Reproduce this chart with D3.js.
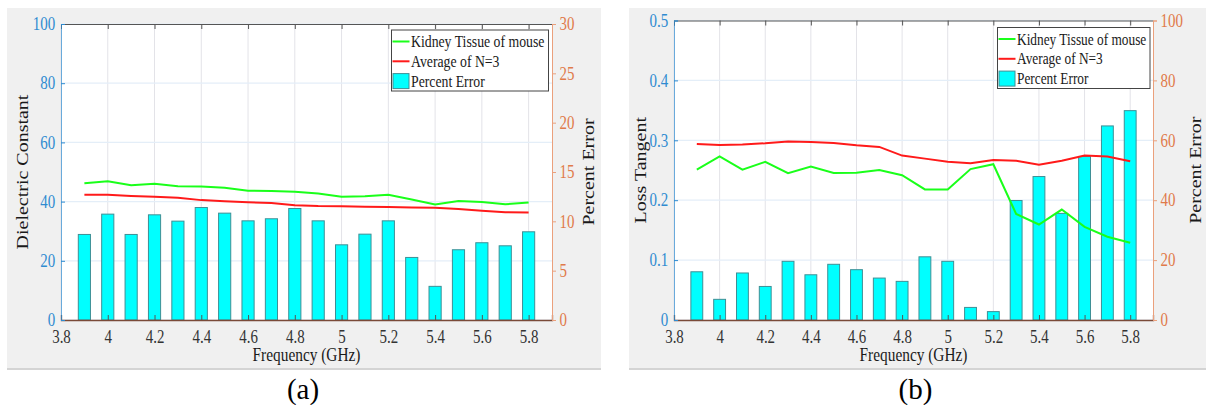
<!DOCTYPE html>
<html>
<head>
<meta charset="utf-8">
<script src="https://cdn.jsdelivr.net/npm/d3@7"></script>
<style>
  html, body { margin: 0; padding: 0; background: #ffffff; }
  svg { display: block; }
  text { font-family: "Liberation Serif", "Times New Roman", serif; }
</style>
</head>
<body>
<svg id="chart" width="1213" height="405"></svg>
<script>
// Frequencies (GHz) shared by both panels
const frequency = [3.9, 4.0, 4.1, 4.2, 4.3, 4.4, 4.5, 4.6, 4.7, 4.8,
                   4.9, 5.0, 5.1, 5.2, 5.3, 5.4, 5.5, 5.6, 5.7, 5.8];
const xTicks = [3.8, 4, 4.2, 4.4, 4.6, 4.8, 5, 5.2, 5.4, 5.6, 5.8];

// Panel (a): dielectric constant
const dielectricKidney  = [46.2, 46.9, 45.5, 46.0, 45.2, 45.1, 44.7, 43.7, 43.6, 43.3,
                           42.7, 41.6, 41.8, 42.3, 40.7, 39.0, 40.2, 39.9, 39.1, 39.7];
const dielectricAverage = [42.3, 42.3, 41.9, 41.6, 41.3, 40.5, 40.1, 39.8, 39.5, 38.8,
                           38.5, 38.4, 38.3, 38.2, 38.0, 37.9, 37.5, 36.9, 36.4, 36.3];
const dielectricError   = [8.67, 10.73, 8.67, 10.66, 10.02, 11.4, 10.83, 10.05, 10.26, 11.3,
                           10.05, 7.62, 8.7, 10.05, 6.34, 3.41, 7.12, 7.83, 7.52, 8.94];
const dielectricTicks   = [0, 20, 40, 60, 80, 100];
const dielectricErrTicks = [0, 5, 10, 15, 20, 25, 30];

// Panel (b): loss tangent
const lossKidney  = [0.251, 0.273, 0.251, 0.264, 0.245, 0.256, 0.2455, 0.246, 0.2505, 0.2417,
                     0.218, 0.218, 0.252, 0.260, 0.177, 0.1594, 0.1844, 0.1556, 0.139, 0.129];
const lossAverage = [0.294, 0.292, 0.293, 0.295, 0.298, 0.297, 0.2955, 0.2917, 0.289, 0.2745,
                     0.2694, 0.264, 0.2617, 0.267, 0.266, 0.2594, 0.266, 0.2745, 0.2728, 0.265];
const lossError   = [16.1, 6.9, 15.7, 11.2, 19.6, 15.1, 18.6, 16.8, 14.0, 12.9,
                     21.1, 19.6, 4.2, 2.8, 39.9, 47.9, 35.6, 54.6, 64.8, 69.9];
const lossTicks    = [0, 0.1, 0.2, 0.3, 0.4, 0.5];
const lossErrTicks = [0, 20, 40, 60, 80, 100];

const legendLabels = ["Kidney Tissue of mouse", "Average of N=3", "Percent Error"];

const C = {
  panelBg: "#f0f0f0",
  left: "#2f8bd0",
  right: "#e07a4a",
  rightLine: "#eba07c",
  green: "#1aff1a",
  red: "#ff1a1a",
  bar: "#00ffff",
  barEdge: "#3f8f95",
  box: "#555555",
  grid: "#e3e3e8",
  gridH: "#e4eef8",
  base: "#7a4a38"
};

const SQ = 0.83;  // horizontal squeeze of the typeface
const svg = d3.select("#chart");

function drawPanel(p) {
  const g = svg.append("g");

  // grey figure background
  g.append("rect")
    .attr("x", p.bg[0]).attr("y", p.bg[1])
    .attr("width", p.bg[2] - p.bg[0]).attr("height", p.bg[3] - p.bg[1])
    .attr("fill", C.panelBg);
  g.append("line")
    .attr("x1", p.bg[0]).attr("x2", p.bg[2])
    .attr("y1", p.bg[3]).attr("y2", p.bg[3])
    .attr("stroke", "#d4d4d4").attr("stroke-width", 2);

  const x = d3.scaleLinear().domain([3.8, 5.9]).range([p.x0, p.x1]);
  const yL = d3.scaleLinear().domain(p.yLDomain).range([p.y1, p.y0]);
  const yR = d3.scaleLinear().domain(p.yRDomain).range([p.y1, p.y0]);

  // white plotting area
  g.append("rect")
    .attr("x", p.x0).attr("y", p.y0)
    .attr("width", p.x1 - p.x0).attr("height", p.y1 - p.y0)
    .attr("fill", "#ffffff");

  // grid
  g.append("g").selectAll("line").data(xTicks).join("line")
    .attr("x1", d => x(d)).attr("x2", d => x(d))
    .attr("y1", p.y0).attr("y2", p.y1)
    .attr("stroke", C.grid).attr("stroke-width", 1);
  g.append("g").selectAll("line").data(p.yLTicks).join("line")
    .attr("x1", p.x0).attr("x2", p.x1)
    .attr("y1", d => yL(d)).attr("y2", d => yL(d))
    .attr("stroke", C.gridH).attr("stroke-width", 1.2);

  // bars (right axis)
  const bw = (x(4.0) - x(3.9)) * 0.52;
  g.append("g").selectAll("rect").data(frequency).join("rect")
    .attr("x", d => x(d) - bw / 2)
    .attr("width", bw)
    .attr("y", (d, i) => yR(p.err[i]))
    .attr("height", (d, i) => yR(0) - yR(p.err[i]))
    .attr("fill", C.bar)
    .attr("stroke", C.barEdge).attr("stroke-width", 1);

  // lines (left axis)
  const line = d3.line().x((d, i) => x(frequency[i])).y(d => yL(d));
  g.append("path").datum(p.kidney)
    .attr("d", line).attr("fill", "none")
    .attr("stroke", C.green).attr("stroke-width", 2);
  g.append("path").datum(p.average)
    .attr("d", line).attr("fill", "none")
    .attr("stroke", C.red).attr("stroke-width", 2);

  // top box edge with inward ticks
  const top = g.append("g").attr("transform", `translate(0,${p.y0})`)
    .call(d3.axisTop(x).tickValues(xTicks).tickSize(-5).tickFormat(""));
  top.select(".domain").attr("stroke", C.box);
  top.selectAll(".tick line").attr("stroke", C.box);

  // bottom axis
  const bottom = g.append("g").attr("transform", `translate(0,${p.y1})`)
    .call(d3.axisBottom(x).tickValues(xTicks).tickSize(-5).tickPadding(10)
      .tickFormat(d3.format("")));
  bottom.select(".domain").attr("stroke", C.base).attr("stroke-width", 1.3);
  bottom.selectAll(".tick line").attr("stroke", C.box);
  bottom.selectAll(".tick text")
    .attr("font-size", 18).attr("fill", "#333333")
    .attr("dy", "0.71em")
    .attr("transform", `scale(${SQ},1)`);

  // left axis
  const left = g.append("g").attr("transform", `translate(${p.x0},0)`)
    .call(d3.axisLeft(yL).tickValues(p.yLTicks).tickSize(-4).tickPadding(7)
      .tickFormat(p.yLFormat));
  left.select(".domain").attr("stroke", C.left).attr("stroke-opacity", 0.7);
  left.selectAll(".tick line").attr("stroke", C.left);
  left.selectAll(".tick text")
    .attr("font-size", 18).attr("fill", C.left)
    .attr("transform", `scale(${SQ},1)`);

  // right axis
  const right = g.append("g").attr("transform", `translate(${p.x1},0)`)
    .call(d3.axisRight(yR).tickValues(p.yRTicks).tickSize(4).tickPadding(5)
      .tickFormat(d3.format("")));
  right.select(".domain").attr("stroke", C.rightLine);
  right.selectAll(".tick line").attr("stroke", C.rightLine);
  right.selectAll(".tick text")
    .attr("font-size", 18).attr("fill", C.right)
    .attr("transform", `scale(${SQ},1)`);

  // axis titles
  const midY = (p.y0 + p.y1) / 2;
  g.append("text")
    .attr("transform", `translate(${p.leftTitleX},${midY}) rotate(-90) scale(1,${SQ})`)
    .attr("text-anchor", "middle")
    .attr("font-size", 20).attr("fill", "#1a1a1a")
    .text(p.leftTitle);
  g.append("text")
    .attr("transform", `translate(${p.rightTitleX},${midY}) rotate(-90) scale(1,${SQ})`)
    .attr("text-anchor", "middle")
    .attr("font-size", 20).attr("fill", "#1a1a1a")
    .text("Percent Error");
  g.append("text")
    .attr("transform", `translate(${(p.x0 + p.x1) / 2},361) scale(${SQ},1)`)
    .attr("text-anchor", "middle")
    .attr("font-size", 18.5).attr("fill", "#1a1a1a")
    .text("Frequency (GHz)");

  // caption
  g.append("text")
    .attr("x", p.captionX).attr("y", 399)
    .attr("text-anchor", "middle")
    .attr("font-size", 29).attr("fill", "#000000")
    .text(p.caption);

  // legend
  const L = p.legend;
  const lg = g.append("g").attr("transform", `translate(${L.x},${L.y})`);
  lg.append("rect")
    .attr("width", L.w).attr("height", L.h)
    .attr("fill", "#ffffff").attr("stroke", "#444444").attr("stroke-width", 1);
  const rows = [
    { type: "line", color: C.green },
    { type: "line", color: C.red },
    { type: "swatch", color: C.bar }
  ];
  rows.forEach((r, i) => {
    const cy = 11.5 + i * 19.8;
    if (r.type === "line") {
      lg.append("line")
        .attr("x1", 1).attr("x2", 18)
        .attr("y1", cy).attr("y2", cy)
        .attr("stroke", r.color).attr("stroke-width", 2);
    } else {
      lg.append("rect")
        .attr("x", 1.5).attr("y", cy - 7.5)
        .attr("width", 16).attr("height", 15)
        .attr("fill", r.color).attr("stroke", C.barEdge);
    }
    lg.append("text")
      .attr("transform", `translate(19.5,${cy + 5.5}) scale(${L.sq},1)`)
      .attr("font-size", 17).attr("fill", "#1a1a1a")
      .text(legendLabels[i]);
  });
}

drawPanel({
  bg: [7, 8, 601, 369],
  x0: 61, x1: 552, y0: 24, y1: 320,
  yLDomain: [0, 100], yRDomain: [0, 30],
  yLTicks: dielectricTicks, yRTicks: dielectricErrTicks,
  yLFormat: d3.format(""),
  kidney: dielectricKidney, average: dielectricAverage, err: dielectricError,
  leftTitle: "Dielectric Constant",
  leftTitleX: 28, rightTitleX: 594,
  caption: "(a)", captionX: 303,
  legend: { x: 391.5, y: 30, w: 157, h: 61, sq: 0.81 }
});

drawPanel({
  bg: [629, 8, 1206, 369],
  x0: 674, x1: 1153, y0: 20.5, y1: 320,
  yLDomain: [0, 0.5], yRDomain: [0, 100],
  yLTicks: lossTicks, yRTicks: lossErrTicks,
  yLFormat: d => d === 0 ? "0" : d3.format(".1f")(d),
  kidney: lossKidney, average: lossAverage, err: lossError,
  leftTitle: "Loss Tangent",
  leftTitleX: 646, rightTitleX: 1201,
  caption: "(b)", captionX: 915.5,
  legend: { x: 997.5, y: 27.5, w: 152.5, h: 61, sq: 0.785 }
});
</script>
</body>
</html>
